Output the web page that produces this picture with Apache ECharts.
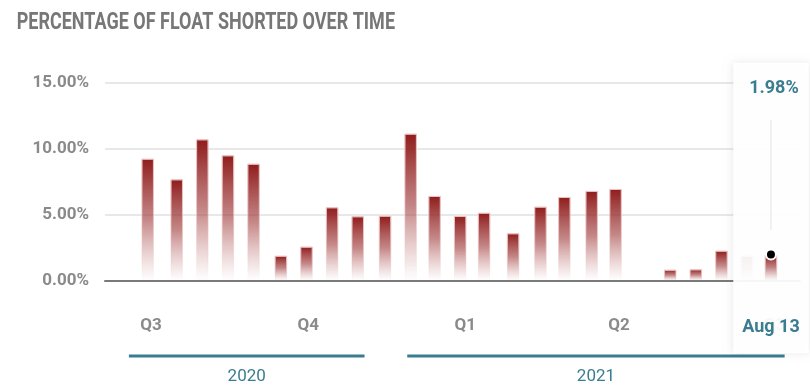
<!DOCTYPE html>
<html><head><meta charset="utf-8">
<script src="https://cdn.jsdelivr.net/npm/echarts@6/dist/echarts.min.js"></script>
<style>html,body{margin:0;padding:0;background:#fff}#c{width:810px;height:389px}</style>
</head><body><div id="c"></div>
<script>
// ---- data ----
const dates = ['2020-06-29','2020-07-16','2020-07-31','2020-08-15','2020-08-30','2020-09-15',
  '2020-09-30','2020-10-15','2020-10-30','2020-11-15','2020-11-30','2020-12-14','2020-12-29',
  '2021-01-12','2021-01-29','2021-02-14','2021-02-28','2021-03-16','2021-03-30',
  '2021-05-01','2021-05-16','2021-05-31','2021-06-15','2021-06-29'];
const values = [9.24,7.68,10.71,9.50,8.86,1.89,2.58,5.56,4.88,4.92,11.14,6.42,4.90,
  5.15,3.59,5.61,6.34,6.80,6.95,0.83,0.86,2.27,1.89,1.98];
const quarterTicks = ['2020-07-01','2020-10-01','2021-01-01','2021-04-01','2021-07-01'];
const yTicks = [0,5,10,15];
const years = ['2020','2021'];
const yearStart = ['2020-06-18','2020-11-28'];
const yearEnd = ['2020-11-03','2021-07-07'];
const axisStart = '2020-06-04';
const axisEnd = '2021-07-16';
const tipLabel = 'Aug 13';
const tipValue = 1.98;
const titleText = 'PERCENTAGE OF FLOAT SHORTED OVER TIME';

// ---- helpers ----
function ts(s){const p=s.split('-').map(Number);return Date.UTC(p[0],p[1]-1,p[2]);}
const TEAL = '#3a7d91';
const barData = dates.map((d,i)=>[ts(d), values[i]]);
const last = barData[barData.length-1];

const chart = echarts.init(document.getElementById('c'), null, {renderer:'canvas'});
const barColor = {type:'linear',x:0,y:0,x2:0,y2:1,colorStops:[
  {offset:0,color:'rgba(143,28,28,1)'},
  {offset:0.5,color:'rgba(158,55,55,0.6)'},
  {offset:1,color:'rgba(190,110,110,0.0)'}]};
const borderGrad = {type:'linear',x:0,y:0,x2:0,y2:1,colorStops:[
  {offset:0,color:'rgba(235,195,195,0.8)'},
  {offset:1,color:'rgba(235,195,195,0.0)'}]};

chart.setOption({
  animation:false,
  grid:{left:105,right:10,top:82.7,bottom:108.3},
  xAxis:{
    type:'value', min:ts(axisStart), max:ts(axisEnd),
    axisLine:{show:true,onZero:false,lineStyle:{color:'#7a7a7a',width:2}},
    axisTick:{show:false},
    splitLine:{show:false},
    axisLabel:{
      customValues: quarterTicks.map(ts),
      formatter: v => 'Q' + (Math.floor(new Date(v).getUTCMonth()/3)+1),
      color:'#8a8a8a', fontFamily:'Roboto', fontWeight:'bold', fontSize:17, margin:37,
      showMinLabel:true, showMaxLabel:true
    }
  },
  yAxis:{
    type:'value', min:yTicks[0], max:yTicks[yTicks.length-1], interval:5,
    axisLine:{show:false}, axisTick:{show:false},
    splitLine:{lineStyle:{color:'#e8e8e8',width:2}},
    axisLabel:{formatter:v=>v.toFixed(2)+'%', color:'#8a8a8a', fontFamily:'Roboto',
      fontWeight:'bold', fontSize:17, margin:16}
  },
  series:[
    {type:'bar', data:barData, barWidth:12.5, z:2,
      itemStyle:{color:barColor, borderColor:borderGrad, borderWidth:1}},
    {type:'bar', data:[last], barWidth:12.5, barGap:'-100%', z:5,
      itemStyle:{color:barColor, borderColor:borderGrad, borderWidth:1}},
    {type:'scatter', data:[[last[0], tipValue]], symbolSize:10, z:6,
      itemStyle:{color:'#000', borderColor:'#fff', borderWidth:2, opacity:1}}
  ]
});

// ---- decorations ----
const cv = document.createElement('canvas').getContext('2d');
const titleSize = 23.5;
cv.font = 'bold ' + titleSize + 'px Roboto';
const tw = cv.measureText(titleText).width;
const sx = 378.3 / tw;

const px = d => chart.convertToPixel({xAxisIndex:0}, d);
const bx = px(last[0]);
const g = [];
g.push({type:'text', x:16.7, y:23.6, scaleX:sx, z:10,
  style:{text:titleText, x:0, y:0, align:'left', verticalAlign:'middle',
    fill:'#777', font:'bold '+titleSize+'px Roboto'}});
years.forEach((y,i)=>{
  const x1 = px(ts(yearStart[i])), x2 = px(ts(yearEnd[i]));
  g.push({type:'line', z:1, shape:{x1:x1,y1:356,x2:x2,y2:356}, style:{stroke:TEAL,lineWidth:3}});
  g.push({type:'text', z:1, x:(x1+x2)/2, y:377, style:{text:y, align:'center', verticalAlign:'middle',
    fill:TEAL, font:'17px Roboto'}});
});
g.push({type:'rect', z:3, shape:{x:bx-37.7, y:62.7, width:75.5, height:290.5},
  style:{fill:'rgba(255,255,255,0.94)', shadowBlur:8, shadowColor:'rgba(0,0,0,0.10)'}});
g.push({type:'line', z:4, shape:{x1:bx, y1:120, x2:bx, y2:230}, style:{stroke:'#e3e3e3', lineWidth:1}});
g.push({type:'text', z:4, x:bx+3, y:88.3, style:{text:tipValue.toFixed(2)+'%', align:'center',
  verticalAlign:'middle', fill:TEAL, font:'bold 18px Roboto'}});
g.push({type:'text', z:4, x:bx, y:327.3, style:{text:tipLabel, align:'center',
  verticalAlign:'middle', fill:TEAL, font:'bold 18px Roboto'}});
chart.setOption({graphic:{elements:g}});
</script></body></html>
